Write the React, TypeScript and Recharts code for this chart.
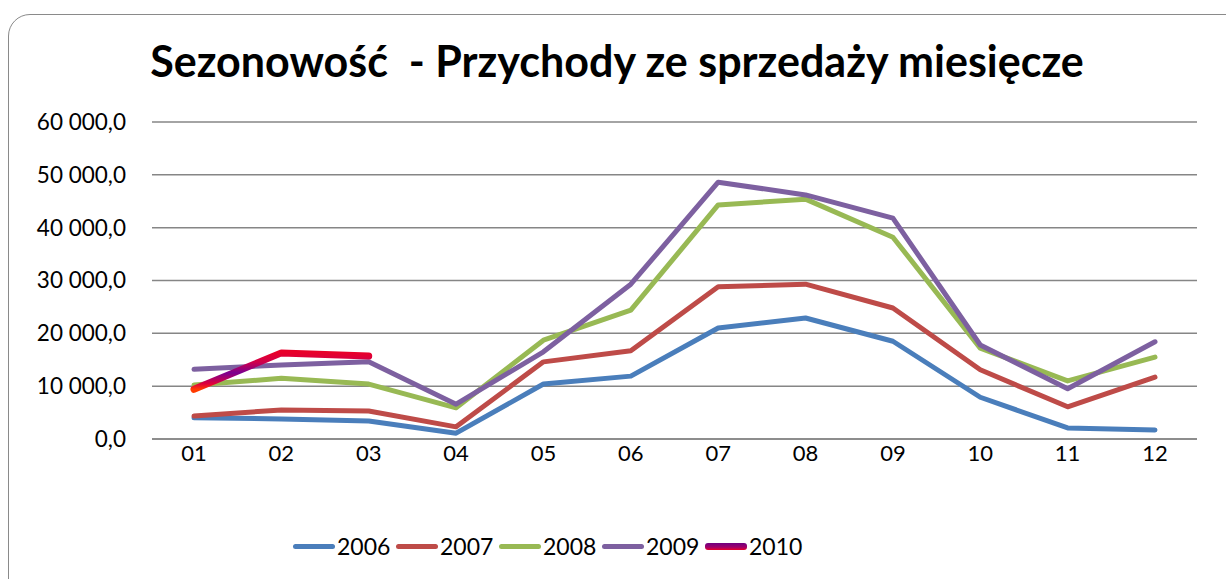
import React from "react";
import { LineChart, Line, XAxis, YAxis, CartesianGrid } from "recharts";

const months = ["01", "02", "03", "04", "05", "06", "07", "08", "09", "10", "11", "12"];
const y2006 = [4000, 3800, 3400, 1100, 10400, 11900, 21000, 22900, 18500, 7900, 2100, 1700];
const y2007 = [4350, 5500, 5300, 2300, 14600, 16700, 28800, 29300, 24800, 13100, 6100, 11700];
const y2008 = [10200, 11500, 10400, 5900, 18700, 24400, 44300, 45400, 38200, 17200, 11000, 15500];
const y2009 = [13200, 14000, 14600, 6600, 16500, 29300, 48600, 46200, 41800, 17800, 9500, 18400];
const y2010 = [9400, 16300, 15700, null, null, null, null, null, null, null, null, null];
const yTicks = [0, 10000, 20000, 30000, 40000, 50000, 60000];

const series = [
  { key: "2006", values: y2006, color: "#4a7ebb", width: 5 },
  { key: "2007", values: y2007, color: "#be4b48", width: 5 },
  { key: "2008", values: y2008, color: "#98b954", width: 5 },
  { key: "2009", values: y2009, color: "#7d60a0", width: 5 },
  { key: "2010", values: y2010, color: "url(#g2010)", width: 7 },
];

const data = months.map((m, i) => {
  const row: Record<string, any> = { month: m };
  series.forEach((s) => (row[s.key] = s.values[i]));
  return row;
});

const fmt = (v: number) => {
  const s = Math.round(v).toString().replace(/\B(?=(\d{3})+(?!\d))/g, " ");
  return s + ",0";
};

const font = "Lato, 'Open Sans', sans-serif";

export default function App() {
  return (
    <div style={{ position: "fixed", left: 0, top: 0, width: 1226, height: 579, overflow: "hidden", background: "#fff" }}>
      <div
        style={{
          position: "absolute",
          left: 8,
          top: 14,
          width: 1240,
          height: 600,
          border: "1.5px solid #8a8a8a",
          borderRadius: 22,
          boxSizing: "border-box",
        }}
      />
      <div
        style={{
          position: "absolute",
          left: 0,
          width: 1234,
          top: 35,
          textAlign: "center",
          fontFamily: font,
          fontWeight: 700,
          fontSize: 43,
          color: "#000",
          whiteSpace: "pre",
        }}
      >
        {"Sezonowość  - Przychody ze sprzedaży miesięcze"}
      </div>
      <div style={{ position: "absolute", left: 0, top: 0 }}>
        <LineChart width={1226} height={579} data={data} margin={{ top: 122, right: 29, left: 0, bottom: 100 }}>
          <defs>
            <linearGradient id="g2010" x1="0" y1="0" x2="0" y2="1">
              <stop offset="0%" stopColor="#e8002a" />
              <stop offset="25%" stopColor="#d0004a" />
              <stop offset="55%" stopColor="#7a0090" />
              <stop offset="85%" stopColor="#e0003a" />
              <stop offset="100%" stopColor="#ff3a00" />
            </linearGradient>
          </defs>
          <CartesianGrid vertical={false} stroke="#868686" strokeWidth={1.5} />
          <XAxis
            dataKey="month"
            height={40}
            padding={{ left: 42, right: 42 }}
            tickSize={0}
            tickMargin={6}
            axisLine={{ stroke: "#868686", strokeWidth: 1.5 }}
            tick={{ fontFamily: font, fontSize: 22, fill: "#000" }}
          />
          <YAxis
            width={152}
            domain={[0, 60000]}
            ticks={yTicks}
            tickFormatter={fmt}
            tickSize={0}
            tickMargin={26}
            axisLine={false}
            tick={{ fontFamily: font, fontSize: 22.5, fill: "#000" }}
          />
          {series.map((s) => (
            <Line
              key={s.key}
              dataKey={s.key}
              stroke={s.color}
              strokeWidth={s.width}
              dot={false}
              activeDot={false}
              type="linear"
              strokeLinecap="round"
              strokeLinejoin="round"
              isAnimationActive={false}
            />
          ))}
        </LineChart>
      </div>
      <div
        style={{
          position: "absolute",
          left: 293,
          top: 532,
          display: "flex",
          fontFamily: font,
          fontSize: 23,
          color: "#000",
        }}
      >
        {series.map((s) => (
          <div key={s.key} style={{ display: "flex", alignItems: "center", width: 103 }}>
            <div
              style={{
                width: 42,
                height: s.key === "2010" ? 7 : 5,
                borderRadius: 3,
                background:
                  s.key === "2010" ? "linear-gradient(#6e0080, #a0006a 60%, #e8002a)" : s.color,
                marginRight: 2,
              }}
            />
            <span>{s.key}</span>
          </div>
        ))}
      </div>
    </div>
  );
}
